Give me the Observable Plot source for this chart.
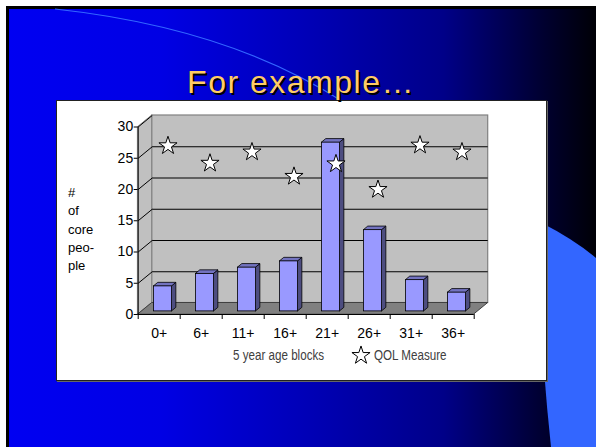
<!DOCTYPE html>
<html><head><meta charset="utf-8">
<script src="https://cdn.jsdelivr.net/npm/d3@7"></script>
<script src="https://cdn.jsdelivr.net/npm/@observablehq/plot@0.6"></script>
<style>
html,body{margin:0;padding:0;background:#fff;}
#page{position:relative;width:596px;height:447px;overflow:hidden;font-family:Arial,"Liberation Sans",sans-serif;}
#slide{position:absolute;left:6px;top:6px;width:590px;height:441px;box-sizing:border-box;border-left:3px solid #000;border-top:3px solid #000;
 background:linear-gradient(to right,#0000f2 0%,#0000e4 26%,#0000b8 50%,#000088 74%,#000030 91%,#000006 100%);}
#deco{position:absolute;left:0;top:0;}
#box{position:absolute;left:56px;top:100px;width:489px;height:279px;background:#fff;border:1px solid #222;box-shadow:1px 1px 0 #666;}
#chart{position:absolute;left:0;top:0;}
#title{position:absolute;left:0;width:602px;top:66px;text-align:center;font-size:32px;line-height:32px;color:#ffcc66;letter-spacing:1.5px;text-shadow:2px 2px 0 #000;white-space:nowrap;}
#ylab{position:absolute;left:68px;top:184px;font-size:13px;line-height:18.3px;color:#000;}
.leg{position:absolute;font-size:14px;line-height:16px;color:#404040;white-space:nowrap;transform:scaleX(0.83);transform-origin:0 50%;}
</style></head>
<body>
<div id="page">
  <div id="slide"></div>
  <svg id="deco" width="596" height="447">
    <path d="M55,9 Q230,28 345,103" fill="none" stroke="#3366ff" stroke-width="1.2"/>
    <path d="M540,222 Q575,240 596,258 L596,447 L551,447 Q547,410 544,370 Z" fill="#3366ff"/>
  </svg>
  <div id="box"></div>
  <div id="chart"></div>
  <div id="title">For example…</div>
  <div id="ylab">#<br>of<br>core<br>peo-<br>ple</div>
  <div class="leg" style="left:233px;top:347px;">5 year age blocks</div>
  <svg id="legstar" style="position:absolute;left:351px;top:345px;" width="20" height="20"></svg>
  <div class="leg" style="left:374px;top:347px;">QOL Measure</div>
</div>
<script>
// ---- data ----
const ageBlocks = ["0+","6+","11+","16+","21+","26+","31+","36+"];
const corePeople = [4, 6, 7, 8, 27, 13, 5, 3];
const qolMeasure = [26.5, 23.7, 25.5, 21.6, 23.6, 19.5, 26.6, 25.5];
const yTicks = [0, 5, 10, 15, 20, 25, 30];

// ---- 3D geometry (depth vector in data units) ----
const N = ageBlocks.length;
const YMAX = 30;
const DX = 14 / 42, DY = 11.5 / 6.25;   // full wall depth
const D0 = 0.27, T = 0.31, HW = 0.215;  // bar depth position, thickness, half width

const bars = ageBlocks.map((k, i) => ({k, i, v: corePeople[i]}));
const xl = b => b.i + 0.5 - HW + D0 * DX;
const xr = b => b.i + 0.5 + HW + D0 * DX;

const sideFaces = bars.flatMap(b => [
  {k: b.k, x: xr(b), y1: D0 * DY, y2: b.v + D0 * DY},
  {k: b.k, x: xr(b) + T * DX, y1: (D0 + T) * DY, y2: b.v + (D0 + T) * DY}
]);
const topFaces = bars.flatMap(b => [
  {k: b.k, y: b.v + D0 * DY, x1: xl(b), x2: xr(b)},
  {k: b.k, y: b.v + (D0 + T) * DY, x1: xl(b) + T * DX, x2: xr(b) + T * DX}
]);
const stars = ageBlocks.map((k, i) => ({k, i, q: qolMeasure[i]}));

const wall = [{x1: DX, x2: N + DX, y1: DY, y2: YMAX + DY}];
const sideWall = [{x: 0, y1: 0, y2: YMAX}, {x: DX, y1: DY, y2: YMAX + DY}];
const floor = [{y: 0, x1: 0, x2: N}, {y: DY, x1: DX, x2: N + DX}];

const chart = Plot.plot({
  width: 596, height: 447,
  marginLeft: 137.7, marginRight: 122.3, marginTop: 126.5, marginBottom: 133,
  x: {type: "linear", domain: [0, N]},
  y: {type: "linear", domain: [0, YMAX]},
  style: {background: "transparent", overflow: "visible", fontFamily: "Arial, 'Liberation Sans', sans-serif", fontSize: "14px", color: "#000"},
  marks: [
    // back wall
    Plot.rect(wall, {x1: "x1", x2: "x2", y1: "y1", y2: "y2", fill: "#c0c0c0", stroke: "#808080", strokeWidth: 1.2}),
    Plot.ruleY(yTicks.filter(t => t > 0 && t < YMAX), {y: t => t + DY, x1: DX, x2: N + DX, stroke: "#000", strokeWidth: 1}),
    // side wall
    Plot.areaY(sideWall, {x: "x", y1: "y1", y2: "y2", fill: "#c0c0c0", stroke: "#808080", strokeWidth: 1}),
    Plot.link(yTicks, {x1: 0, y1: t => t, x2: DX, y2: t => t + DY, stroke: "#000", strokeWidth: 1}),
    // floor
    Plot.areaX(floor, {y: "y", x1: "x1", x2: "x2", fill: "#808080", stroke: "#404040", strokeWidth: 1}),
    // axes lines
    Plot.ruleX([0], {y1: 0, y2: YMAX, stroke: "#000", strokeWidth: 1}),
    Plot.ruleY([0], {x1: 0, x2: N, stroke: "#000", strokeWidth: 1}),
    Plot.axisY({ticks: yTicks, tickSize: 4, tickPadding: 1, label: null, fontSize: 14}),
    Plot.axisX({ticks: d3.range(0, N + 1), tickSize: 5, tickFormat: () => "", label: null}),
    Plot.axisX({ticks: d3.range(0, N).map(i => i + 0.5), tickSize: 0, tickPadding: 14, tickFormat: d => ageBlocks[Math.floor(d)], label: null, fontSize: 14}),
    // bars
    Plot.areaY(sideFaces, {x: "x", y1: "y1", y2: "y2", z: "k", fill: "#4d4d80", stroke: "#000", strokeWidth: 0.8}),
    Plot.areaX(topFaces, {y: "y", x1: "x1", x2: "x2", z: "k", fill: "#7373c0", stroke: "#000", strokeWidth: 0.8}),
    Plot.rect(bars, {x1: xl, x2: xr, y1: () => D0 * DY, y2: b => b.v + D0 * DY, fill: "#9999ff", stroke: "#000", strokeWidth: 0.8}),
    // QOL stars
    Plot.dot(stars, {x: d => d.i + 0.5 + D0 * DX, y: d => d.q + D0 * DY, symbol: "star", r: 5.7, dx: 5, fill: "#fff", stroke: "#000", strokeWidth: 1})
  ]
});
document.getElementById("chart").appendChild(chart);

// legend star
const r = 5.7;
const starPath = d3.symbol().type(d3.symbolStar).size(Math.PI * r * r)();
d3.select("#legstar").append("path").attr("d", starPath).attr("transform", "translate(10,10.5)")
  .attr("fill", "#fff").attr("stroke", "#000").attr("stroke-width", 1);
</script>
</body></html>
